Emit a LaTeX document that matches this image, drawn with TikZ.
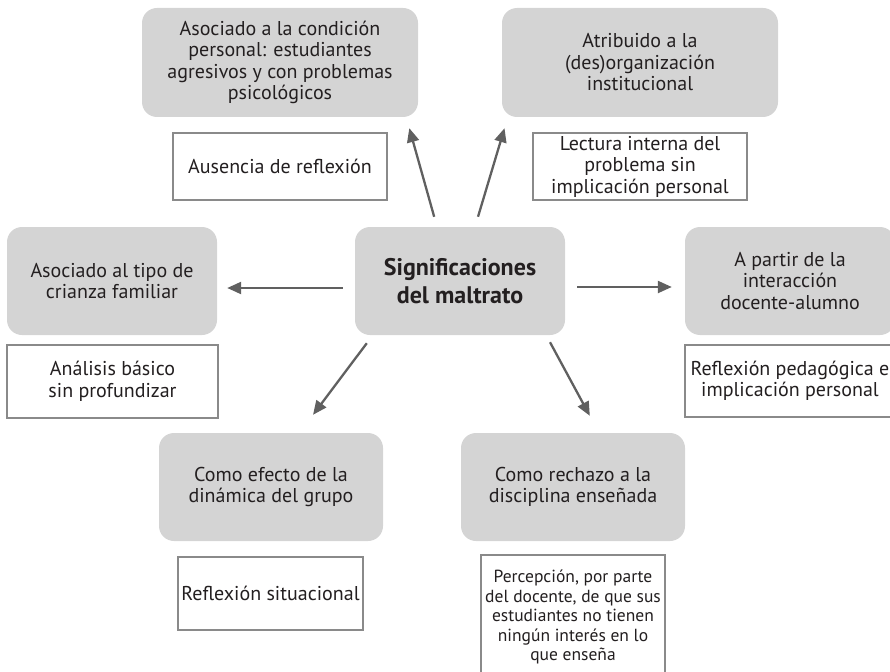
\documentclass[tikz,border=0pt]{standalone}
\usepackage{fontspec}
\setmainfont{PT Sans}
\usetikzlibrary{arrows.meta}
\definecolor{boxgray}{HTML}{D4D4D4}
\definecolor{arrowgray}{HTML}{606060}
\definecolor{framegray}{HTML}{8A8A8A}
\definecolor{inkgray}{HTML}{231F20}

\begin{document}
\begin{tikzpicture}[x=1pt,y=-1pt,
    idea/.style={fill=boxgray,rounded corners=15pt,align=center,text=inkgray,
      inner sep=0pt,font=\fontsize{20}{21.5}\selectfont},
    note/.style={draw=framegray,line width=1.5pt,fill=white,align=center,text=inkgray,
      inner sep=0pt,font=\fontsize{20}{21.5}\selectfont},
    arr/.style={arrowgray,line width=2.3pt,-{Triangle[length=14pt,width=12pt]}}]
    \useasboundingbox (0,0) rectangle (890,671);
    \clip (0,0) rectangle (890,671);
    % categories
    \node[idea,minimum width=210,minimum height=108,font=\bfseries\fontsize{24}{28}\selectfont]
      (cen) at (460,281) {Significaciones\\del maltrato};
    \node[idea,minimum width=276,minimum height=109] (cond) at (280,62.5)
      {Asociado a la condición\\personal: estudiantes\\agresivos y con problemas\\psicológicos};
    \node[idea,minimum width=276,minimum height=109] (inst) at (640,62.5)
      {Atribuido a la\\(des)organización\\institucional};
    \node[idea,minimum width=210,minimum height=108] (cri) at (112,281)
      {Asociado al tipo de\\crianza familiar};
    \node[idea,minimum width=210,minimum height=108] (inter) at (790,281)
      {A partir de la\\interacción\\docente-alumno};
    \node[idea,minimum width=224,minimum height=108] (din) at (271,487)
      {Como efecto de la\\dinámica del grupo};
    \node[idea,minimum width=224,minimum height=108] (rech) at (573,487)
      {Como rechazo a la\\disciplina enseñada};
    % readings
    \node[note,minimum width=214,minimum height=67] (aus) at (280,166.5)
      {Ausencia de reflexión};
    \node[note,minimum width=214,minimum height=67] (lect) at (640,166.5)
      {Lectura interna del\\problema sin\\implicación personal};
    \node[note,minimum width=211,minimum height=73] (ana) at (112.5,381.5)
      {Análisis básico\\sin profundizar};
    \node[note,minimum width=210,minimum height=72] (refl) at (790,381)
      {Reflexión pedagógica e\\implicación personal};
    \node[note,minimum width=185,minimum height=73] (sit) at (270.5,593.5)
      {Reflexión situacional};
    \node[note,minimum width=184,minimum height=124,font=\fontsize{17.5}{19.5}\selectfont]
      (perc) at (573,617)
      {Percepción, por parte\\del docente, de que sus\\estudiantes no tienen\\ningún interés en lo\\que enseña};
    % arrows
    \draw[arr,shorten <=10.4pt,shorten >=11.4pt] ([xshift=-23pt]cen.north) -- ([xshift=-12pt]cond.south east);
    \draw[arr,shorten <=10.5pt,shorten >=11.5pt] ([xshift=15pt]cen.north) -- ([xshift=6pt]inst.south west);
    \draw[arr,shorten <=12pt,shorten >=10pt] ([yshift=-7pt]cen.west) -- ([yshift=-7pt]cri.east);
    \draw[arr,shorten <=12pt,shorten >=13pt] ([yshift=-6pt]cen.east) -- ([yshift=-6pt]inter.west);
    \draw[arr,shorten <=10pt,shorten >=22.5pt] ([xshift=18pt]cen.south west) -- ([xshift=28.5pt]din.north);
    \draw[arr,shorten <=8pt,shorten >=19.3pt] ([xshift=-19pt]cen.south east) -- ([xshift=26pt]rech.north);
  \end{tikzpicture}
\end{document}
